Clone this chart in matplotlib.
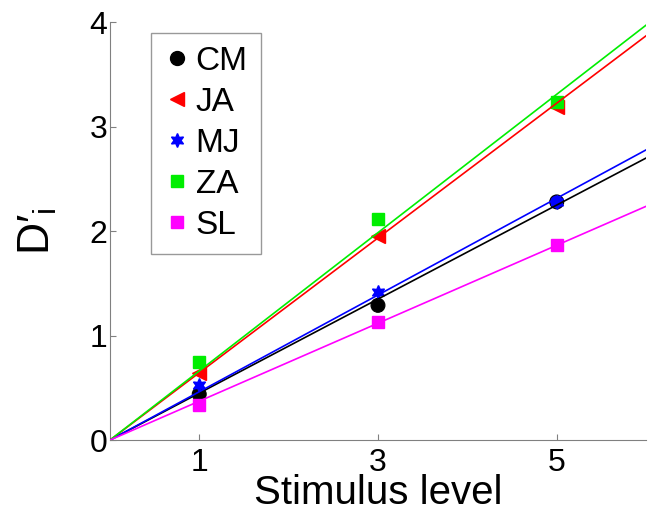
import numpy as np
import matplotlib.pyplot as plt

plt.rcParams['font.family'] = ['Liberation Sans', 'DejaVu Sans']
plt.rcParams['mathtext.fontset'] = 'custom'
plt.rcParams['mathtext.rm'] = 'Liberation Sans'
plt.rcParams['mathtext.it'] = 'Liberation Sans'

# Stimulus levels and D'_i per observer
levels = [1, 3, 5]
observers = ['CM', 'JA', 'MJ', 'ZA', 'SL']
cm = [0.44, 1.29, 2.28]
ja = [0.64, 1.95, 3.19]
mj = [0.53, 1.42, 2.28]
za = [0.75, 2.12, 3.24]
sl = [0.34, 1.13, 1.87]

# fitted slopes of the lines through the origin
slopes = [0.450, 0.645, 0.463, 0.662, 0.373]

colors = ['black', 'red', 'blue', '#00ee00', 'magenta']
markers = ['o', '<', (6, 1, 0), 's', 's']
msizes = [10, 10, 10, 8, 8]
cm_faces = ['black', 'black', 'blue']

fig = plt.figure(figsize=(6.5, 5.16), dpi=100)
ax = fig.add_axes([0.169, 0.147, 0.825, 0.81])

series = [cm, ja, mj, za, sl]
xfit = np.array([0, 6])
for name, vals, k, c, m, ms in zip(observers, series, slopes,
                                   colors, markers, msizes):
    if name == 'CM':
        ax.scatter(levels, vals, s=ms**2, marker=m, c=cm_faces,
                   edgecolors='black', linewidths=0.8, zorder=3)
        ax.plot([], [], ls='none', marker=m, color=c, ms=ms, label=name)
    else:
        ax.plot(levels, vals, ls='none', marker=m, color=c, ms=ms,
                zorder=3, label=name)
    ax.plot(xfit, k * xfit, color=c, lw=1.2, zorder=4)

ax.set_xlim(0, 6)
ax.set_ylim(0, 4)
ax.set_xticks(levels)
ax.set_yticks([0, 1, 2, 3, 4])
ax.tick_params(direction='in', length=4, color='gray', labelsize=23)
ax.tick_params(axis='y', pad=2)
ax.tick_params(axis='x', pad=6)
for side in ['top', 'right']:
    ax.spines[side].set_visible(False)
for side in ['left', 'bottom']:
    ax.spines[side].set_color('gray')

ax.set_xlabel('Stimulus level', fontsize=29, labelpad=-3.5)
ax.set_ylabel("D\u2032$_\\mathrm{i}$", fontsize=32, labelpad=22)

leg = ax.legend(loc='upper left', bbox_to_anchor=(0.076, 0.975),
                fontsize=24, frameon=True, fancybox=False,
                handletextpad=0.15, labelspacing=0.3, borderpad=0.4,
                handlelength=0.8, borderaxespad=0, markerscale=1.0)
leg.get_frame().set_edgecolor('gray')
leg.get_frame().set_linewidth(1.0)

fig.savefig('out.png', dpi=100)
